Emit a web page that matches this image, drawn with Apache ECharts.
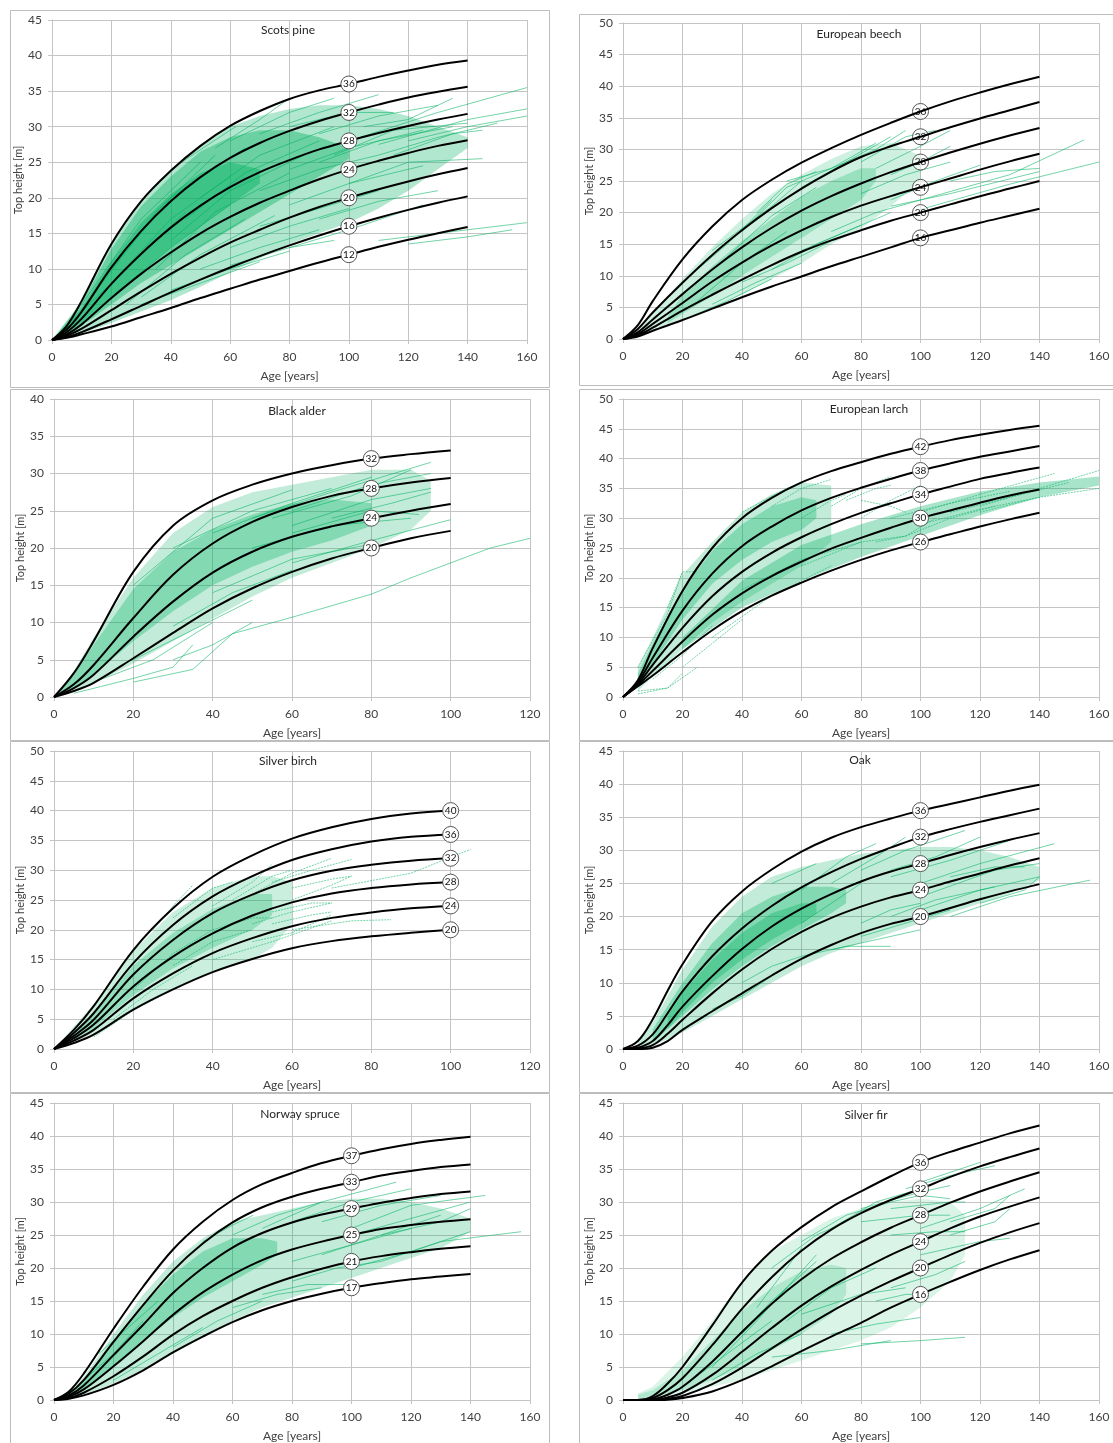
<!DOCTYPE html>
<html lang="en">
<head>
<meta charset="utf-8">
<script src="https://cdn.jsdelivr.net/npm/echarts@6/dist/echarts.min.js"></script>
<style>
  html, body { margin: 0; background: #fff; }
  #chart { width: 1113px; height: 1443px; }
</style>
</head>
<body>
<div id="chart"></div>
<script>
// ---- Scots pine ----
var pineAge = [0,5,10,20,30,40,50,60,70,80,90,100,110,120,130,140];
var pineSI = [36,32,28,24,20,16,12];
var pineCurves = [
  [0,2.0,5.5,13.5,19.5,23.8,27.3,30.1,32.2,33.9,35.1,36,37.0,37.9,38.7,39.3],
  [0,1.5,4.0,10.2,15.3,19.5,22.9,25.6,27.7,29.4,30.8,32,33.1,34.1,34.9,35.6],
  [0,1.1,3.0,7.9,12.1,15.8,18.9,21.5,23.6,25.3,26.8,28,29.1,30.1,31.0,31.8],
  [0,0.8,2.2,5.9,9.3,12.3,15.0,17.3,19.3,21.0,22.6,24,25.2,26.3,27.3,28.1],
  [0,0.6,1.6,4.2,6.8,9.3,11.6,13.7,15.5,17.2,18.7,20,21.2,22.3,23.3,24.2],
  [0,0.4,1.1,2.9,4.8,6.7,8.5,10.2,11.8,13.3,14.7,16,17.2,18.3,19.3,20.2],
  [0,0.3,0.8,1.9,3.2,4.5,5.9,7.2,8.5,9.7,10.9,12,13.1,14.1,15.0,15.9]
];
var pineBands = [
  [[0,10,20,30,40,50,60,70,80,90,100,110,120,130,140],
   [0,5.5,13.5,19.5,24,27.5,30,31.5,32.5,33,33,32.5,31.5,30,28.5],
   [0,0.9,2.4,4,5.6,7.5,9.5,11.5,13.5,15,16.5,18.5,21,24,27]],
  [[0,10,20,30,40,50,60,70,80,90,100],
   [0,5.2,12.8,18.8,23,26.5,28.5,29.5,29.5,28.5,27],
   [0,2.0,5,8,10.5,13,15.5,18,20.5,23,25.5]],
  [[0,10,20,30,40,50,60,70],
   [0,4.5,11,16.5,20.5,23.5,25,24],
   [0,2.5,6,9.5,13,16,19,22]]
];
var pineObs = [
  [40,24,60,29.5,62,30],[55,27,70,31,80,34],[60,28,80,32,95,34],[70,29,90,32,110,34.5],
  [80,30,100,32,115,32],[90,29,110,31.5,130,33],[100,28,130,32,160,35.5],[110,27.5,140,31,160,32.5],
  [120,28,140,30,160,31.5],[110,26,130,28.5,150,30.5],[90,25,110,28,135,30],[80,24,100,27,125,29.5],
  [100,22,120,25,145,25.5],[70,21,90,24,110,26],[80,19,100,22,125,24.5],[90,17,110,19.5,130,21],
  [70,16,90,18.5,110,21],[60,13,80,16,100,18.5],[80,13,100,15.5,125,19],[110,14,140,15.5,160,16.5],
  [120,13.5,140,14.5,155,15.5],[50,10,70,13,90,15.5],[40,7,60,10,80,12.5],[30,5,50,8,70,11],
  [60,10.5,80,13,95,14],[115,26,135,29,145,29.5],[95,26,115,29.5,140,30.5],[105,30,120,31,135,34],
  [10,5,30,17,50,25],[15,7,35,18,55,26],[20,8,40,17,60,23],[5,2,25,10,45,18],[20,6,40,13,60,19],
  [25,5,45,12,65,17],[30,6,50,12,75,17.5],[35,10,55,18,80,23.5],[40,14,60,21,85,26],
  [45,17,65,23.5,90,28],[50,20,70,26,95,30],[20,10,40,20,65,27]
];

// ---- European beech ----
var beechAge = [0,5,10,20,30,40,50,60,70,80,90,100,110,120,130,140];
var beechSI = [36,32,28,24,20,16];
var beechCurves = [
  [0,2.2,6.0,12.6,17.8,22.0,25.2,27.9,30.2,32.3,34.2,36,37.6,39.0,40.3,41.5],
  [0,1.6,4.2,8.9,13.3,17.2,20.7,23.8,26.5,28.8,30.5,32,33.5,34.9,36.2,37.5],
  [0,1.1,3.1,7.1,11.0,14.5,17.6,20.3,22.6,24.6,26.4,28,29.5,30.9,32.2,33.4],
  [0,0.8,2.4,5.7,9.1,12.1,14.8,17.2,19.3,21.1,22.6,24,25.4,26.8,28.1,29.3],
  [0,0.6,1.8,4.5,7.0,9.4,11.7,13.8,15.6,17.2,18.7,20,21.3,22.6,23.8,25.0],
  [0,0.4,1.3,3.0,4.8,6.6,8.3,9.9,11.5,13.0,14.5,16,17.2,18.4,19.5,20.6]
];
var beechBands = [
  [[5,10,20,30,40,50,60,70,80,90,100],
   [1.5,4,9.5,14.5,19,23,26,28.5,30.5,31,29],
   [0.5,1.5,3.2,5,7,9.5,12,15,17.5,21,25]],
  [[15,20,30,40,50,60,70,80,85],
   [3.5,7,11.5,15.5,19,22.5,25,27,27],
   [2.5,4,6.8,10,13,16,19,22,25]]
];
var beechObs = [
  [30,14,50,21,60,25],[40,17,55,24,70,27],[55,25,70,27,85,31],[60,24,75,28,90,32],
  [70,27,85,30,95,33],[80,28,95,32,105,33],[85,27,100,30.5,110,33],[90,26,100,28,110,30.5],
  [80,23,95,26,110,28],[90,22,105,25,120,27.5],[100,22,130,26,155,31.5],[100,20.5,130,24.5,160,28],
  [90,21,110,23,140,26.5],[70,17,85,20,100,22],[60,14,75,17,90,20],[50,11,65,15,80,18],
  [40,9,55,12,70,15.5],[30,5.5,45,9,60,12],[20,3,35,6,50,9.5],[25,6,40,12,55,17],
  [35,13,50,19.5,65,24],[20,9,35,15,50,22],[45,20,55,24.5,65,26.5],[110,25,125,26.5,140,27]
];

// ---- Black alder ----
var alderAge = [0,5,10,20,30,40,50,60,70,80,90,100];
var alderSI = [32,28,24,20];
var alderCurves = [
  [0,3.2,7.5,16.8,23.0,26.4,28.5,30.0,31.1,32,32.6,33.1],
  [0,1.7,4.3,10.6,16.4,20.6,23.5,25.5,27.0,28,28.8,29.4],
  [0,1.2,3.0,8.1,12.8,16.7,19.5,21.5,22.9,24,25.0,25.9],
  [0,0.8,1.9,5.2,8.6,11.9,14.6,16.8,18.6,20,21.3,22.3]
];
var alderBands = [
  [[0,5,10,20,30,40,50,60,70,80,90,95],
   [0,3.5,8,16,22,25.5,27.5,28.5,29.5,30.5,30.5,29],
   [0,0.8,1.8,4.5,7.5,10.5,13.5,16,18,20,22.5,25]],
  [[0,5,10,20,30,40,50,60,70,80],
   [0,3,7,14.5,19.5,22.5,24.5,26,26.5,26],
   [0,1.3,3,7.5,11.5,15,17.5,19.5,21,23]]
];
var alderObs = [
  [20,15,40,24,60,27.8],[30,20,50,25,70,28],[40,22,60,26,80,29.5],[50,24,70,27.5,95,31.5],
  [60,25,80,28.5,95,30],[55,24,75,27,90,30.5],[60,23,80,26.5,95,28],[70,24,85,26,95,27.5],
  [60,22,80,25,92,24.5],[50,20,70,23,90,24],[60,18,80,21,100,23.8],[40,14,60,18.5,80,20.5],
  [30,9.5,45,14,60,17],[20,5,35,9,50,13],[10,2,25,5,40,10],[30,5,40,7,50,10],
  [20,2,35,3.7,45,8.5,60,10.7,80,13.8,90,16,110,20,120,21.3],[5,0.5,20,2.5,30,4,35,7]
];

// ---- European larch ----
var larchAge = [0,5,10,20,30,40,50,60,70,80,90,100,110,120,130,140];
var larchSI = [42,38,34,30,26];
var larchCurves = [
  [0,2.8,8.2,17.8,25.0,30.0,33.4,36.0,37.9,39.4,40.8,42,43.1,44.0,44.8,45.5],
  [0,2.5,6.6,14.5,20.7,25.3,28.6,31.3,33.4,35.1,36.6,38,39.2,40.3,41.2,42.1],
  [0,2.2,5.4,11.6,16.9,21.0,24.2,26.8,29.0,30.9,32.5,34,35.3,36.6,37.6,38.5],
  [0,2.0,4.4,9.3,13.8,17.4,20.3,22.7,24.9,26.7,28.4,30,31.3,32.6,33.8,34.8],
  [0,1.8,3.6,7.5,11.2,14.4,17.0,19.2,21.2,23.0,24.6,26,27.3,28.6,29.8,30.9]
];
var larchBands = [
  [[5,10,20,30,40,50,60,70],
   [5,10,20.5,26,31,34,36,35.5],
   [1,3.5,8,12.5,16,19,22,26]],
  [[5,10,20,30,40,50,60,65],
   [4,9,18,24.5,29,32,33.5,33],
   [1.5,5.5,13,19,23,26,28,30]],
  [[20,40,60,80,100,120,140,160],
   [10,19.5,25.5,29,32,34.5,36,37],
   [8,15,19.5,23.5,27,30.5,33.5,35.5]]
];
var larchObs = [
  [5,5,15,14,20,21],[15,15,20,21,25,21],[40,31,55,35,65,37],[50,32,60,35,70,36.5],
  [70,32,80,35,90,37],[75,33,85,35,90,35.5],[80,30,90,33,100,35.5],[80,33,90,32,95,31],
  [90,30,110,32.5,130,34.5],[100,31,120,34,145,37.5],[110,31,130,33.5,150,36],[120,32,140,35,160,38],
  [120,31,140,33.5,160,35],[100,29,120,31.5,140,33.5],[95,27,110,30,125,32],[85,26,95,27,105,30],
  [5,0.5,15,1.5,25,5],[5,1,15,1.5,20,4],[20,5,30,9,40,13],[30,10,50,17,70,22],
  [60,22,80,26,95,27],[40,18,60,23,80,26],[10,3,20,7,30,12],[60,30,70,33,75,34]
];

// ---- Silver birch ----
var birchAge = [0,5,10,20,30,40,50,60,70,80,90,100];
var birchSI = [40,36,32,28,24,20];
var birchCurves = [
  [0,3.2,7.2,16.6,23.6,28.9,32.5,35.3,37.2,38.6,39.5,40],
  [0,2.7,6.0,14.4,20.8,25.6,29.0,31.7,33.5,34.8,35.6,36],
  [0,2.2,4.9,12.5,18.3,22.8,25.9,28.3,29.9,30.9,31.6,32],
  [0,1.8,4.1,10.5,15.5,19.4,22.4,24.6,26.1,27.0,27.6,28],
  [0,1.4,3.2,8.5,12.7,16.1,18.6,20.6,22.0,22.9,23.6,24],
  [0,1.0,2.4,6.6,10.0,12.9,15.1,16.9,18.1,18.9,19.5,20]
];
var birchBands = [
  [[0,10,20,30,40,50,55,60],
   [0,7.5,16.5,23,27,29,29,28],
   [0,2.5,6.5,10,13,15,17,21]],
  [[5,10,20,30,40,50,55],
   [2.5,6,14,19.5,23.5,26,26],
   [1.5,3.5,9,13.5,17,20,22.5]]
];
var birchObs = [
  [25,20,30,24,35,27.5],[30,22,40,27,45,28],[40,24,50,28,55,31],[45,25,55,29,60,30],
  [50,26,60,29.5,70,32],[55,28,65,30,75,31.8],[60,27,70,28.5,75,29],[60,25,70,27.5,75,29],
  [55,23,65,24.5,70,24.5],[50,21,60,23,70,24.5],[55,21,65,22.5,70,23],[60,20,75,21.5,85,21.7],
  [50,18,60,19.5,70,22.5],[40,15,55,18,70,21.5],[70,27,90,29.5,105,33.5],[40,20,50,22,55,22],
  [10,2,20,6.5,30,10],[15,5,25,10,35,14],[20,10,30,16,40,20],[30,14,40,18,50,20]
];

// ---- Oak ----
var oakAge = [0,5,10,15,20,30,40,50,60,70,80,90,100,110,120,130,140];
var oakSI = [36,32,28,24,20];
var oakCurves = [
  [0,1.2,4.5,8.8,12.8,19.3,23.8,27.1,29.8,31.9,33.5,34.8,36,37.0,38.0,39.0,39.9],
  [0,0.5,2.2,5.4,8.7,14.0,18.2,21.6,24.4,26.7,28.7,30.4,32,33.2,34.3,35.3,36.3],
  [0,0.2,1.2,3.6,6.4,11.0,15.1,18.5,21.2,23.4,25.3,26.8,28,29.3,30.5,31.6,32.6],
  [0,0.1,0.6,2.3,4.4,8.4,12.0,15.1,17.7,19.8,21.5,22.9,24,25.3,26.5,27.7,28.8],
  [0,0,0.2,1.2,2.9,5.7,8.4,11.1,13.6,15.7,17.5,18.9,20,21.3,22.6,23.8,24.9]
];
var oakBands = [
  [[5,10,20,30,40,50,60,70,80,90,100,110,120,130,140],
   [1.5,4,12,18.5,23,26,27.5,28.5,29.5,30,30.5,30.5,30,29,27.5],
   [0,0.5,2.5,5,7.5,10,12.5,14.5,16,17.5,19,20.5,22,23.5,25.5]],
  [[10,20,30,40,50,60,70,75],
   [3,10,16,20.5,23,24.5,24.5,24],
   [1,5,9,12.5,15.5,18,20.5,22]],
  [[15,20,30,40,50,60,65],
   [5,8.5,13.5,17.5,20.5,22,22],
   [3,5.5,10,13.5,16.5,19,20.5]]
];
var oakObs = [
  [50,25,60,27,65,28],[60,24,75,29,85,31],[70,25,85,29,95,32],[80,27,95,30,115,33],
  [90,27,105,29,120,32],[90,26,110,28.5,130,31.5],[100,25,120,28,145,31],[100,23,125,27,140,28],
  [100,21,120,24,140,26],[110,20,130,23,157,25.5],[120,22,135,24,140,26],[90,20,105,22.5,125,24.5],
  [80,17,95,19,110,21],[70,15,85,16.5,100,18],[60,14,75,15.5,90,15.5],[80,19,90,21,100,22],
  [40,10,50,12.5,60,14],[30,6,40,8,50,11],[60,19,70,22,80,25],[110,26,125,27.5,135,27.5]
];

// ---- Norway spruce ----
var spruceAge = [0,5,10,20,30,40,50,60,70,80,90,100,110,120,130,140];
var spruceSI = [37,33,29,25,21,17];
var spruceCurves = [
  [0,1.3,4.0,10.8,17.2,22.8,27.0,30.3,32.7,34.4,35.9,37,38.0,38.8,39.4,39.9],
  [0,1.0,3.0,8.8,14.4,19.6,23.7,26.9,29.2,30.8,32.0,33,34.0,34.7,35.3,35.7],
  [0,0.7,2.2,6.8,11.4,16.2,20.0,23.1,25.3,26.9,28.1,29,29.9,30.6,31.2,31.6],
  [0,0.5,1.6,5.1,8.9,12.9,16.3,19.0,21.2,22.8,24.0,25,25.9,26.5,27.0,27.4],
  [0,0.3,1.1,3.6,6.6,9.9,12.7,15.0,17.0,18.6,19.9,21,21.8,22.4,22.9,23.3],
  [0,0.2,0.7,2.3,4.5,7.2,9.6,11.8,13.6,15.0,16.1,17,17.7,18.3,18.7,19.1]
];
var spruceBands = [
  [[5,10,20,30,40,50,60,70,80,90,100,110,120,130,140],
   [1,3.5,10,16,21,24.5,27,28,29,30,30.5,30.5,30,29,27.5],
   [0.3,0.8,2.5,4.5,7,9.5,12,14,15.5,17,18.5,20,21.5,23,25.5]],
  [[5,10,20,30,40,50,60,70,75],
   [1,3,9,14.5,19,22.5,24.5,24.5,24],
   [0.5,1.5,5,9,12.5,15.5,18,20.5,22]]
];
var spruceObs = [
  [50,24,60,26.5,67,28],[60,25,75,28,90,30],[70,26,90,30,115,33],[80,27,100,30,120,32],
  [90,27,110,29.5,130,31],[100,26,120,29.5,145,31],[100,25,120,27.5,140,30],[110,25,130,27,140,29],
  [90,22,110,25,130,28],[80,21,100,23.5,120,26],[100,20,120,22.5,140,25.5],[110,21,130,24,157,25.5],
  [80,18,95,20,110,21],[70,16,85,17.5,100,17.5],[60,14,75,16,90,17],[40,8,55,12,70,15],
  [20,3,35,7,50,11],[10,3,20,7,30,12],[15,7,25,11,35,15]
];

// ---- Silver fir ----
var firAge = [0,5,10,15,20,30,40,50,60,70,80,90,100,110,120,130,140];
var firSI = [36,32,28,24,20,16];
var firCurves = [
  [0,0,0.6,2.5,5.0,11.3,17.8,22.6,26.2,29.2,31.6,33.9,36,37.6,39.0,40.4,41.6],
  [0,0,0.3,1.5,3.3,8.3,13.8,18.6,22.6,25.8,28.3,30.3,32,33.8,35.4,36.8,38.1],
  [0,0,0.1,0.8,2.0,5.8,10.3,14.6,18.3,21.4,23.9,26.1,28,29.9,31.6,33.1,34.5],
  [0,0,0,0.4,1.1,3.8,7.3,10.9,14.3,17.2,19.7,22.0,24,26.0,27.8,29.3,30.7],
  [0,0,0,0.2,0.6,2.4,4.9,7.8,10.7,13.4,15.8,18.0,20,22.0,23.8,25.4,26.8],
  [0,0,0,0.05,0.3,1.3,3.0,5.1,7.4,9.6,11.7,14.0,16,17.9,19.7,21.3,22.7]
];
var firBands = [
  [[5,10,20,30,40,50,60,70,80,90,100,110,115],
   [1,2,6.5,12,18,22.5,25,27.5,29,30,30.5,30,28],
   [0,0.3,1,2,3,4.5,6,7.5,9,11,14,18,22]],
  [[5,10,20,30,40,50,60,70,75],
   [0.8,1.5,4.5,9,13.5,17,19.5,20.5,20],
   [0.2,0.5,1.5,3,5,7.5,10,13,16]]
];
var firObs = [
  [60,24,75,28,90,30],[70,26,85,30,100,32],[80,29,100,31.5,110,32.5],[90,30,100,31,110,30.5],
  [95,32,110,34,125,35.5],[100,33,110,34.5,120,36],[90,29,110,30,115,30],[80,27,100,28,110,28],
  [90,25,105,25.5,115,25.5],[100,26,120,29,135,32],[110,27,125,29,130,31],[110,25,125,27,130,29],
  [100,22,120,24,130,24.5],[90,17,105,19,115,21],[85,15,95,16,100,16],[60,13,80,16,95,17],
  [70,10,85,11.5,100,12.5],[50,6.5,70,7.5,90,9],[80,8.5,100,9,115,9.5],[30,5,45,12,55,17],
  [40,10,55,17,65,22],[45,14,55,20,60,23],[20,2,35,7,50,12],[35,8,50,15,65,21],
  [50,20,65,25,75,27],[55,12,70,17,85,20],[30,3,45,7,60,10]
];

var PANELS = [
  { name: 'Scots pine',      xmax: 160, ymax: 45, ages: pineAge,   si: pineSI,   curves: pineCurves,   labelAge: 100, bands: pineBands,   obs: pineObs },
  { name: 'European beech',  xmax: 160, ymax: 50, ages: beechAge,  si: beechSI,  curves: beechCurves,  labelAge: 100, bands: beechBands,  obs: beechObs },
  { name: 'Black alder',     xmax: 120, ymax: 40, ages: alderAge,  si: alderSI,  curves: alderCurves,  labelAge: 80,  bands: alderBands,  obs: alderObs },
  { name: 'European larch',  xmax: 160, ymax: 50, ages: larchAge,  si: larchSI,  curves: larchCurves,  labelAge: 100, bands: larchBands,  obs: larchObs },
  { name: 'Silver birch',    xmax: 120, ymax: 50, ages: birchAge,  si: birchSI,  curves: birchCurves,  labelAge: 100, bands: birchBands,  obs: birchObs },
  { name: 'Oak',             xmax: 160, ymax: 45, ages: oakAge,    si: oakSI,    curves: oakCurves,    labelAge: 100, bands: oakBands,    obs: oakObs },
  { name: 'Norway spruce',   xmax: 160, ymax: 45, ages: spruceAge, si: spruceSI, curves: spruceCurves, labelAge: 100, bands: spruceBands, obs: spruceObs },
  { name: 'Silver fir',      xmax: 160, ymax: 45, ages: firAge,    si: firSI,    curves: firCurves,    labelAge: 100, bands: firBands,    obs: firObs }
];

// layout of each panel: plot area, outer frame, title centre
var LAYOUT = [
  { grid: [52, 20, 475, 320],   frame: [10, 10, 539, 377],   title: [288, 24] },
  { grid: [623, 23, 476, 316],  frame: [579, 14, 540, 371],  title: [859, 28] },
  { grid: [54, 399, 476, 298],  frame: [10, 389, 539, 351],  title: [297, 405] },
  { grid: [623, 399, 476, 298], frame: [579, 389, 540, 351], title: [869, 403] },
  { grid: [54, 751, 476, 298],  frame: [10, 741, 539, 351],  title: [288, 755] },
  { grid: [623, 751, 476, 298], frame: [579, 741, 540, 351], title: [860, 754] },
  { grid: [54, 1103, 476, 298], frame: [10, 1093, 539, 356], title: [300, 1108] },
  { grid: [623, 1103, 476, 298],frame: [579, 1093, 540, 356],title: [866, 1109] }
];
var DOTTED = { 'European larch': true, 'Silver birch': true };
var DENSITY = { 'Scots pine': 1.25, 'European beech': 0.8, 'Silver birch': 0.85, 'Silver fir': 0.6 };
var BAND_ALPHA = [0.24, 0.32, 0.34];
var FONT = 'Lato, "Open Sans", sans-serif';
var GRIDC = '#c4c4c4';

var grids = [], xAxes = [], yAxes = [], series = [], titles = [], graphics = [];

function pairs(a) {
  var out = [];
  for (var i = 0; i < a.length; i += 2) out.push([a[i], a[i + 1]]);
  return out;
}

PANELS.forEach(function (p, k) {
  var L = LAYOUT[k];
  var dens = DENSITY[p.name] || 1;
  grids.push({ left: L.grid[0], top: L.grid[1], width: L.grid[2], height: L.grid[3], containLabel: false });
  graphics.push({ type: 'rect', silent: true, z: -1,
    shape: { x: L.frame[0] + 0.5, y: L.frame[1] + 0.5, width: L.frame[2], height: L.frame[3] },
    style: { fill: null, stroke: '#bdbdbd', lineWidth: 1 } });
  titles.push({ text: p.name, left: L.title[0], top: L.title[1], textAlign: 'center', padding: 0,
    textStyle: { fontFamily: FONT, fontSize: 12, fontWeight: 'normal', color: '#262626' } });

  xAxes.push({
    gridIndex: k, type: 'value', min: 0, max: p.xmax, interval: 20,
    name: 'Age [years]', nameLocation: 'middle', nameGap: 30,
    nameTextStyle: { fontFamily: FONT, fontSize: 12, color: '#404040' },
    axisLine: { show: true, lineStyle: { color: GRIDC } },
    axisTick: { show: true, length: 4, lineStyle: { color: GRIDC } },
    axisLabel: { fontFamily: FONT, fontSize: 12, color: '#404040', margin: 11 },
    splitLine: { show: true, lineStyle: { color: GRIDC, width: 1 } }
  });
  yAxes.push({
    gridIndex: k, type: 'value', min: 0, max: p.ymax, interval: 5,
    name: 'Top height [m]', nameLocation: 'middle', nameGap: 26,
    nameTextStyle: { fontFamily: FONT, fontSize: 11, color: '#404040' },
    axisLine: { show: true, lineStyle: { color: GRIDC } },
    axisTick: { show: true, length: 4, lineStyle: { color: GRIDC } },
    axisLabel: { fontFamily: FONT, fontSize: 12, color: '#404040', margin: 10 },
    splitLine: { show: true, lineStyle: { color: GRIDC, width: 1 } }
  });

  // density of observed series (filled bands)
  series.push({
    type: 'custom', xAxisIndex: k, yAxisIndex: k, silent: true, clip: true, z: 1,
    data: p.bands.map(function (b, i) { return [i, 0]; }),
    renderItem: function (params, api) {
      var b = p.bands[params.dataIndex];
      var pts = [];
      for (var i = 0; i < b[0].length; i++) pts.push(api.coord([b[0][i], b[1][i]]));
      for (var j = b[0].length - 1; j >= 0; j--) pts.push(api.coord([b[0][j], b[2][j]]));
      var a = Math.min(0.6, BAND_ALPHA[params.dataIndex] * dens);
      return { type: 'polygon', shape: { points: pts },
        style: { fill: 'rgba(0,176,96,' + a + ')' } };
    }
  });

  // individual observed growth series
  series.push({
    type: 'lines', coordinateSystem: 'cartesian2d', xAxisIndex: k, yAxisIndex: k,
    polyline: true, silent: true, z: 2,
    data: p.obs.map(function (o) { return { coords: pairs(o) }; }),
    lineStyle: { color: '#00b060', width: 1, opacity: 0.55, type: DOTTED[p.name] ? [2, 1] : 'solid' }
  });

  // site index curves
  p.curves.forEach(function (c) {
    series.push({
      type: 'line', xAxisIndex: k, yAxisIndex: k, silent: true, z: 3,
      data: p.ages.map(function (a, i) { return [a, c[i]]; }),
      smooth: 0.35, showSymbol: false,
      lineStyle: { color: '#000', width: 2 }
    });
  });

  // site index markers
  var under = p.name === 'European beech';
  series.push({
    type: 'scatter', xAxisIndex: k, yAxisIndex: k, silent: true, z: under ? 2 : 4,
    data: p.si.map(function (s) { return [p.labelAge, s]; }),
    symbol: 'circle', symbolSize: 16,
    itemStyle: { color: under ? 'rgba(255,255,255,0.6)' : '#fff', borderColor: '#555', borderWidth: 1, opacity: 1 },
    label: { show: true, position: 'inside', fontFamily: FONT, fontSize: 10, color: '#111',
      formatter: function (d) { return d.value[1]; } }
  });
});

var chart = echarts.init(document.getElementById('chart'), null, { renderer: 'canvas' });
chart.setOption({
  animation: false,
  backgroundColor: '#fff',
  title: titles,
  grid: grids,
  xAxis: xAxes,
  yAxis: yAxes,
  graphic: graphics,
  series: series
});
</script>
</body>
</html>
